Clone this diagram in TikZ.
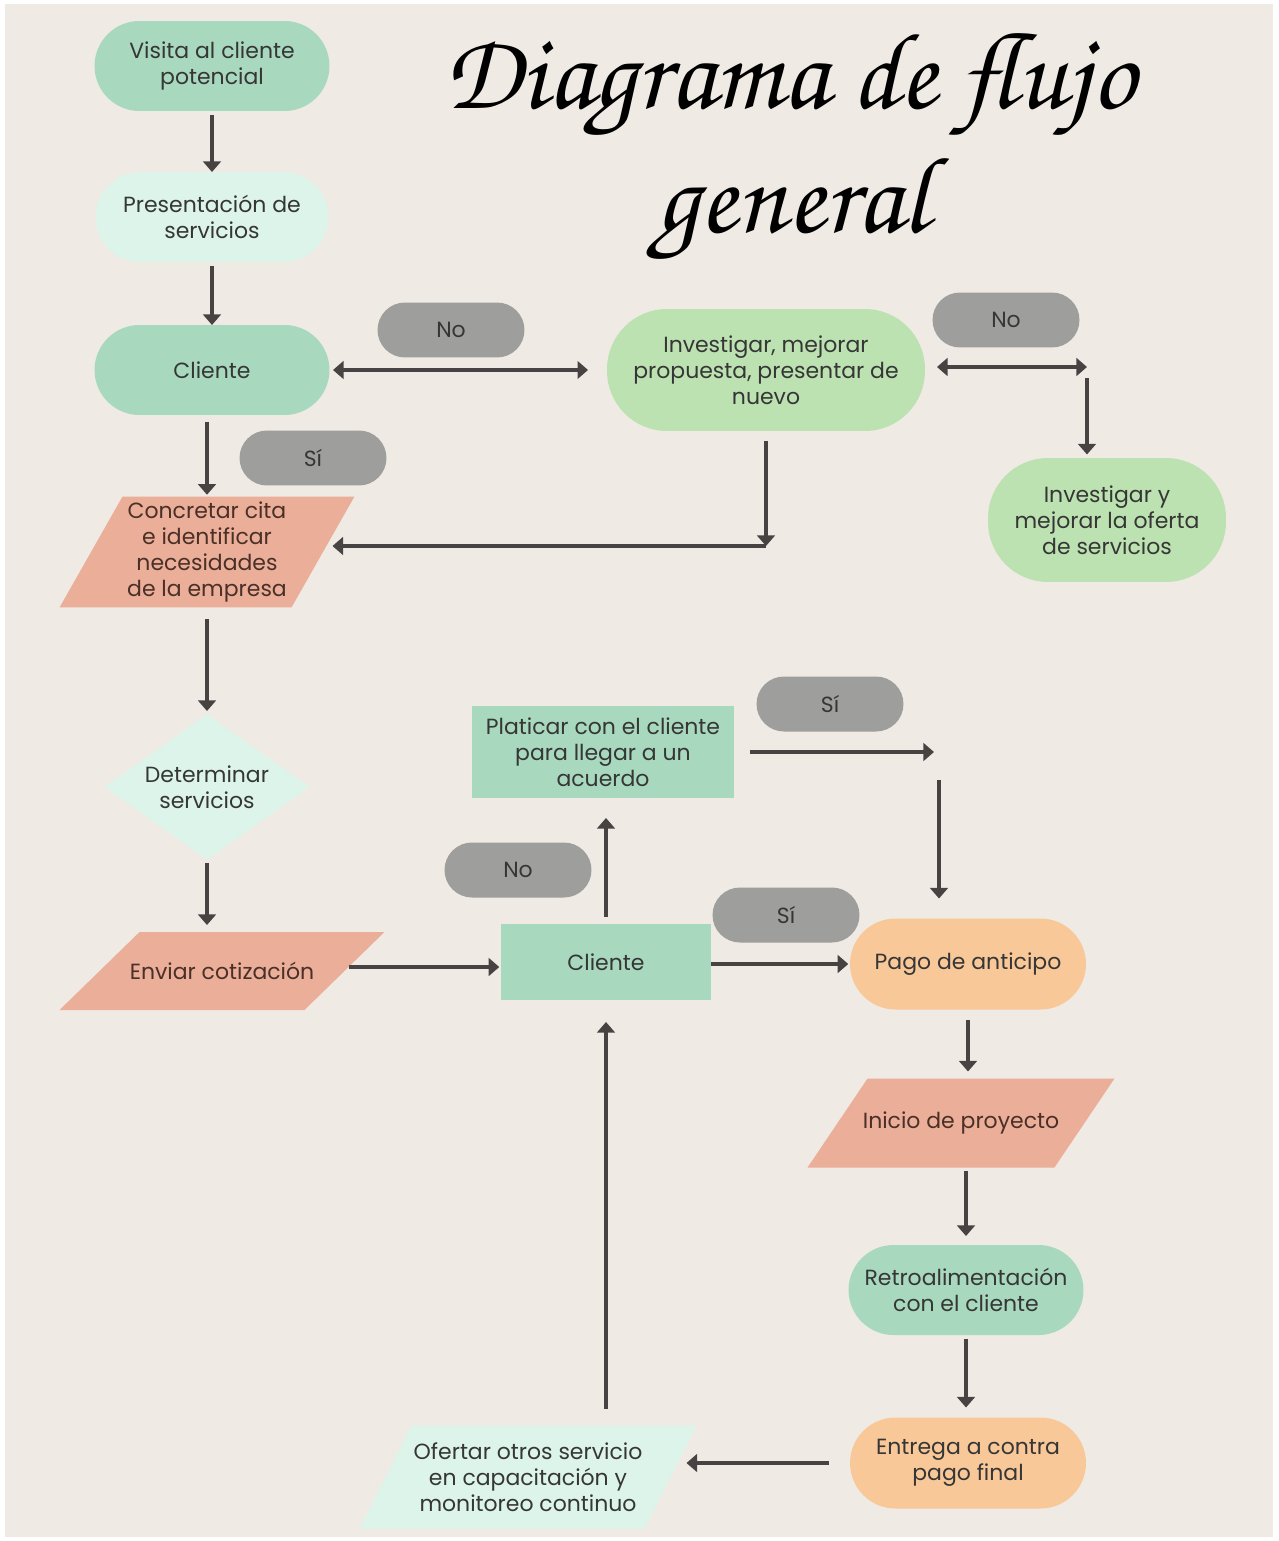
\documentclass[tikz,border=0pt]{standalone}
\usepackage[T1]{fontenc}
\usepackage{fontspec}
\setmainfont{Poppins}
\usetikzlibrary{arrows.meta,calc,backgrounds}

% script face for the heading
\newcommand\headingfont{\fontencoding{T1}\fontfamily{pzc}\fontseries{mb}\fontshape{it}\selectfont}

\definecolor{paper}{HTML}{EFEAE4}
\definecolor{sage}{HTML}{A8D9BE}
\definecolor{mint}{HTML}{DDF4EA}
\definecolor{leaf}{HTML}{BDE2B1}
\definecolor{salmon}{HTML}{EBAE98}
\definecolor{peach}{HTML}{F9C898}
\definecolor{pill}{HTML}{9E9E9C}
\definecolor{ink}{HTML}{363636}
\definecolor{brownink}{HTML}{4A3028}
\definecolor{wire}{HTML}{474343}

% parallelogram body behind a rectangular text node: name, colour, slant offset (px)
\newcommand\slantbody[3]{%
  \fill[#2] (#1.south west) -- ($(#1.north west)+(#3,0)$) -- (#1.north east)
            -- ($(#1.south east)-(#3,0)$) -- cycle;}
% rhombus body behind a rectangular text node: name, colour
\newcommand\gembody[2]{%
  \fill[#2] (#1.north) -- (#1.east) -- (#1.south) -- (#1.west) -- cycle;}

\tikzset{
  x=0.02cm, y=-0.02cm,
  box/.style={align=center, text=ink, inner sep=0pt, outer sep=0pt, font=\fontsize{12.5}{14.8}\selectfont},
  stadium/.style={box, rectangle, minimum width=#1},
  sagepill/.style={stadium=4.7cm, fill=sage, minimum height=1.8cm, rounded corners=0.9cm},
  mintpill/.style={stadium=4.66cm, fill=mint, minimum height=1.8cm, rounded corners=0.9cm},
  peachpill/.style={stadium=4.72cm, fill=peach, minimum height=1.82cm, rounded corners=0.91cm},
  leafpill/.style={box, rectangle, fill=leaf, rounded corners=1.2cm},
  flag/.style={box, fill=pill, rectangle, minimum width=2.94cm, minimum height=1.1cm, rounded corners=0.55cm},
  slab/.style={box, fill=sage, rectangle},
  slantbox/.style={box, rectangle},
  arr/.style={draw=wire, line width=2.2pt, -{Triangle[length=6pt,width=10pt]}},
  twoway/.style={draw=wire, line width=2.2pt, {Triangle[length=6pt,width=10pt]}-{Triangle[length=6pt,width=10pt]}},
}

\begin{document}
\begin{tikzpicture}
\useasboundingbox (0,0) rectangle (1278,1541);
\begin{scope}[on background layer]
  \fill[white] (0,0) rectangle (1278,1541);
  \fill[paper] (5,4) rectangle (1273,1537);
\end{scope}

% heading
\node[text=black] (title1) at (790,86) {\fontsize{62}{66}\headingfont Diagrama de flujo};
\node[text=black] (title2) at (792,210) {\fontsize{62}{66}\headingfont general};

% answer tags
\node[flag] (no1) at (451,330) {No};
\node[flag] (no2) at (1006,320) {No};
\node[flag] (si1) at (313,458) {Sí};
\node[flag] (si2) at (830,704) {Sí};
\node[flag] (no3) at (518,870) {No};
\node[flag] (si3) at (786,915) {Sí};

% process steps
\node[sagepill] (visita) at (212,66) {Visita al cliente\\potencial};
\node[mintpill] (pres) at (212,217) {Presentación de\\servicios};
\node[sagepill] (cli1) at (212,370) {Cliente};
\node[leafpill, minimum width=6.36cm, minimum height=2.44cm] (inv) at (766,370) {Investigar, mejorar\\propuesta, presentar de\\nuevo};
\node[leafpill, minimum width=4.76cm, minimum height=2.48cm] (inv2) at (1107,520) {Investigar y\\mejorar la oferta\\de servicios};
\node[slantbox, text=brownink, minimum width=5.9cm, minimum height=2.22cm] (conc) at (207,552) {Concretar cita\\e identificar\\necesidades\\de la empresa};
\node[slantbox, minimum width=4.1cm, minimum height=2.9cm] (det) at (207,787) {Determinar\\servicios};
\node[slantbox, text=brownink, minimum width=6.5cm, minimum height=1.56cm] (env) at (222,971) {Enviar cotización};
\node[slab, minimum width=4.2cm, minimum height=1.52cm] (cli2) at (606,962) {Cliente};
\node[slab, minimum width=5.24cm, minimum height=1.84cm] (plat) at (603,752) {Platicar con el cliente\\para llegar a un\\acuerdo};
\node[peachpill] (pago) at (968,964) {Pago de anticipo};
\node[slantbox, text=brownink, minimum width=6.14cm, minimum height=1.78cm] (ini) at (961,1123) {Inicio de proyecto};
\node[sagepill] (retro) at (966,1290) {Retroalimentación\\con el cliente};
\node[peachpill] (entrega) at (968,1463) {Entrega a contra\\pago final};
\node[slantbox, minimum width=6.74cm, minimum height=2.06cm] (ofe) at (528,1477) {Ofertar otros servicio\\en capacitación y\\monitoreo continuo};

% slanted and rhombic bodies drawn under their labels
\begin{scope}[on background layer]
  \slantbody{conc}{salmon}{63}
  \gembody{det}{mint}
  \slantbody{env}{salmon}{80}
  \slantbody{ini}{salmon}{60}
  \slantbody{ofe}{mint}{52}
\end{scope}

% junction points of the split connectors
\coordinate (jR) at (1087,367);
\coordinate (jI) at (766,546);
\coordinate (jP) at (934,752);
\coordinate (jQ) at (939,780);
\coordinate (envOut) at ($(env.east)+(-35,-4)$);

% connectors
\draw[arr, shorten <=2pt] (visita) -- (pres);
\draw[arr, shorten <=2pt] (pres) -- (cli1);
\draw[twoway, shorten <=2pt, shorten >=0.38cm] (cli1.east) -- (inv.west);
\draw[twoway, shorten <=0.24cm] (inv.east |- jR) -- (jR);
\draw[arr, shorten <=0.22cm, shorten >=2pt] (jR) -- (jR |- inv2.north);
\draw[arr, shorten <=0.14cm, shorten >=1pt] (cli1.south -| conc.north) -- (conc.north);
\draw[arr, shorten <=0.2cm] (inv.south) -- (jI);
\draw[arr, shorten >=-0.44cm] (jI) -- (jI -| conc.east);
\draw[arr, shorten <=0.24cm, shorten >=2pt] (conc.south) -- (det.north);
\draw[arr, shorten <=2pt, shorten >=0.14cm] (det.south) -- (det.south |- env.north);
\draw[arr, shorten >=1pt] (envOut) -- (envOut -| cli2.west);
\draw[arr, shorten >=1pt] (cli2.east |- pago.west) -- (pago.west);
\draw[arr, shorten <=0.14cm, shorten >=0.4cm] (cli2.north) -- (cli2.north |- plat.south);
\draw[arr, shorten <=0.32cm] (plat.east) -- (jP);
\draw[arr, shorten >=0.4cm] (jQ) -- (jQ |- pago.north);
\draw[arr, shorten <=0.2cm, shorten >=0.14cm] (pago.south) -- (pago.south |- ini.north);
\draw[arr, shorten <=2pt, shorten >=0.18cm] (retro.north |- ini.south) -- (retro.north);
\draw[arr, shorten <=2pt, shorten >=0.2cm] (retro.south) -- (retro.south |- entrega.north);
\draw[arr, shorten <=0.42cm, shorten >=-0.2cm] (entrega.west) -- (entrega.west -| ofe.east);
\draw[arr, shorten <=0.34cm, shorten >=0.44cm] (ofe.north -| cli2.south) -- (cli2.south);
\end{tikzpicture}
\end{document}
